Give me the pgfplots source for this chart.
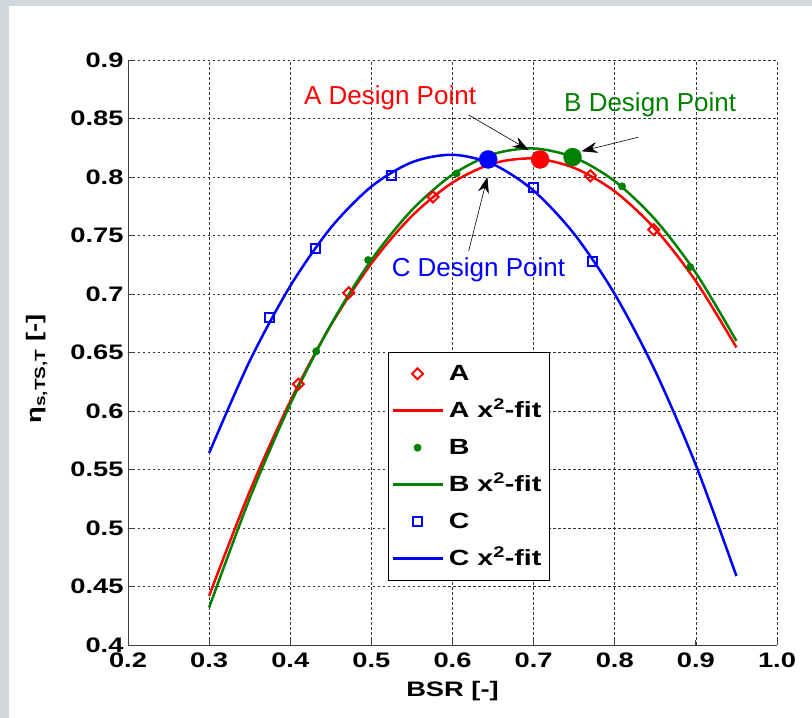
\documentclass[border=0pt]{standalone}
\usepackage{pgfplots}
\pgfplotsset{compat=1.18}
\usepackage{fontspec}
\setmainfont{Liberation Sans}[BoldFeatures={FakeStretch=1.3}]
\usetikzlibrary{arrows.meta}
\definecolor{mred}{RGB}{255,0,0}
\definecolor{mgreen}{RGB}{0,128,0}
\definecolor{mblue}{RGB}{0,0,255}
\definecolor{framegray}{RGB}{211,214,218}
\begin{document}
\begin{tikzpicture}
\fill[framegray] (-128pt,-73pt) rectangle (684pt,645pt);
\fill[white] (-119pt,-73pt) rectangle (684pt,639pt);
\useasboundingbox (-128pt,-73pt) rectangle (684pt,645pt);
\begin{axis}[
  at={(0pt,0pt)}, anchor=south west,
  width=649pt, height=585pt, scale only axis,
  xmin=0.2, xmax=1.0, ymin=0.4, ymax=0.9,
  axis x line*=bottom, axis y line*=left,
  axis line style={black!75, line width=0.9pt, -},
  xtick={0.2,0.3,0.4,0.5,0.6,0.7,0.8,0.9,1.0},
  xticklabels={0.2,0.3,0.4,0.5,0.6,0.7,0.8,0.9,1.0},
  ytick={0.4,0.45,0.5,0.55,0.6,0.65,0.7,0.75,0.8,0.85,0.9},
  yticklabels={0.4,0.45,0.5,0.55,0.6,0.65,0.7,0.75,0.8,0.85,0.9},
  tick align=inside, major tick length=5pt,
  tick style={black!75, line width=0.8pt},
  grid=major,
  grid style={black!80, dash pattern=on 2.5pt off 2.5pt, line width=0.7pt},
  ticklabel style={font=\bfseries\fontsize{21}{25}\selectfont},
  xticklabel style={yshift=-4pt},
  yticklabel style={xshift=-1pt},
  every axis x label/.style={at={(rel axis cs:0.5,0)}, yshift=-46pt, anchor=center},
  every axis y label/.style={at={(rel axis cs:0,0.472)}, xshift=-91pt, rotate=90, anchor=center},
  label style={font=\bfseries\fontsize{21}{25}\selectfont},
  xlabel={BSR [-]},
  ylabel={η\textsubscript{s,TS,T} [-]},
  clip=false,
  legend cell align=left,
  legend image code/.code={\draw[mark repeat=2,mark phase=2] plot coordinates {(0pt,0pt)(25pt,0pt)(50pt,0pt)};},
  legend style={at={(axis cs:0.5206,0.6504)}, anchor=north west, draw=black, fill=white,
    font=\bfseries\fontsize{22}{26}\selectfont, row sep=0pt, inner sep=3pt,
    nodes={text height=20pt, text depth=7pt, inner sep=5pt}},
]
% A
\addplot[only marks, draw=mred, mark=square, mark size=3.9pt, mark options={rotate=45, line width=2pt, draw=mred, fill=white}]
  coordinates {(0.410,0.623) (0.472,0.701) (0.576,0.783) (0.770,0.801) (0.848,0.755)};
\addlegendentry{A}
\addplot[mred, line width=2.5pt, smooth, no marks] coordinates {
(0.30,0.4420) (0.35,0.5312) (0.40,0.6083) (0.45,0.6733) (0.50,0.7261) (0.55,0.7667) (0.60,0.7952)
(0.65,0.8116) (0.70,0.8158) (0.75,0.8078) (0.80,0.7877) (0.85,0.7554) (0.90,0.7109) (0.95,0.6543)};
\addlegendentry{A x\textsuperscript{2}-fit}
% B
\addplot[only marks, draw=mgreen, fill=mgreen, mark=*, mark size=3.7pt, mark options={draw=mgreen, fill=mgreen}]
  coordinates {(0.432,0.651) (0.496,0.729) (0.605,0.803) (0.809,0.792) (0.893,0.723)};
\addlegendentry{B}
\addplot[mgreen, line width=2.5pt, smooth, no marks] coordinates {
(0.30,0.4320) (0.35,0.5252) (0.40,0.6058) (0.45,0.6737) (0.50,0.7291) (0.55,0.7718) (0.60,0.8020)
(0.65,0.8195) (0.70,0.8244) (0.75,0.8167) (0.80,0.7964) (0.85,0.7635) (0.90,0.7180) (0.95,0.6599)};
\addlegendentry{B x\textsuperscript{2}-fit}
% C
\addplot[only marks, draw=mblue, mark=square, mark size=4.6pt, mark options={line width=2pt, draw=mblue, fill=white}]
  coordinates {(0.374,0.680) (0.431,0.739) (0.525,0.801) (0.700,0.791) (0.773,0.728)};
\addlegendentry{C}
\addplot[mblue, line width=2.5pt, smooth, no marks] coordinates {
(0.30,0.5641) (0.35,0.6427) (0.40,0.7068) (0.45,0.7566) (0.50,0.7918) (0.55,0.8126) (0.60,0.8190)
(0.65,0.8109) (0.70,0.7883) (0.75,0.7513) (0.80,0.6999) (0.85,0.6340) (0.90,0.5537) (0.95,0.4589)};
\addlegendentry{C x\textsuperscript{2}-fit}
% design points
\addplot[forget plot, only marks, mark=*, mark size=9pt, mark options={draw=mred, fill=mred}] coordinates {(0.708,0.815)};
\addplot[forget plot, only marks, mark=*, mark size=9pt, mark options={draw=mgreen, fill=mgreen}] coordinates {(0.748,0.817)};
\addplot[forget plot, only marks, mark=*, mark size=9pt, mark options={draw=mblue, fill=mblue}] coordinates {(0.644,0.815)};
% annotations
\draw[-{Stealth[length=16pt,width=11pt]}, line width=0.6pt] (axis cs:0.620,0.853) -- (axis cs:0.694,0.823);
\draw[-{Stealth[length=16pt,width=11pt]}, line width=0.6pt] (axis cs:0.829,0.834) -- (axis cs:0.759,0.822);
\draw[-{Stealth[length=16pt,width=11pt]}, line width=0.6pt] (axis cs:0.620,0.737) -- (axis cs:0.643,0.800);
\node[mred, font=\fontsize{26}{31}\selectfont] at (axis cs:0.523,0.8675) {A Design Point};
\node[mgreen, font=\fontsize{26}{31}\selectfont] at (axis cs:0.8437,0.8620) {B Design Point};
\node[mblue, font=\fontsize{26}{31}\selectfont] at (axis cs:0.632,0.7205) {C Design Point};
\end{axis}
\end{tikzpicture}
\end{document}
